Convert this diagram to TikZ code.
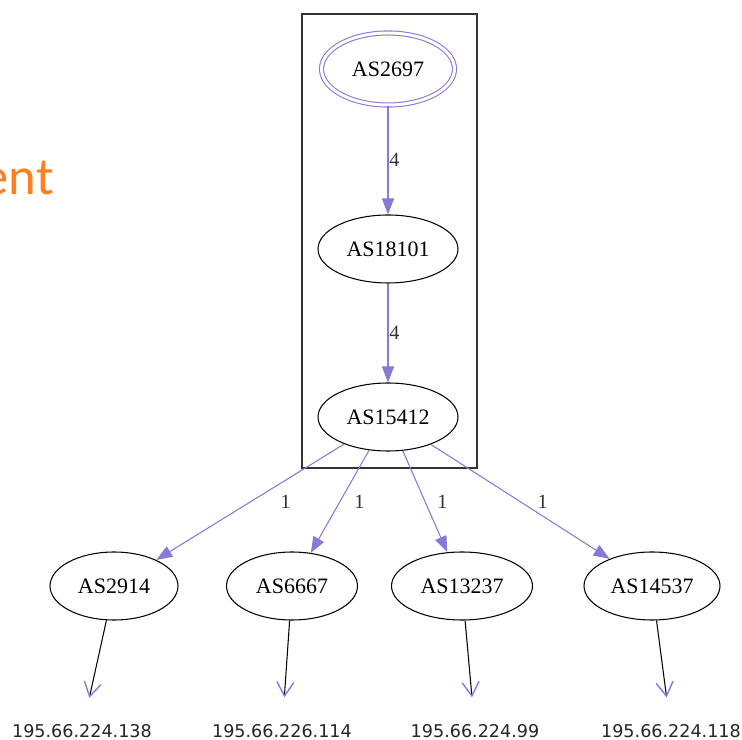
\documentclass[tikz,border=0pt]{standalone}
\usepackage{fontspec}
\setmainfont{Liberation Serif}
\newfontfamily\ipfont{DejaVu Sans}
\newfontfamily\headfont{Carlito}
\usepackage{xcolor}
\usepackage{tikz}
\usetikzlibrary{shapes.geometric,arrows.meta}
\definecolor{ASPurple}{HTML}{8878D8}
\definecolor{ASOrange}{HTML}{FF8020}
\definecolor{ASFrame}{HTML}{333333}

\begin{document}
\begin{tikzpicture}[x=1cm,y=1cm,
  asnode/.style={ellipse,draw=black,line width=0.6pt,inner sep=0pt,minimum height=1.36cm,font=\fontsize{12.5}{14}\selectfont},
  ipnode/.style={inner sep=1pt,font=\ipfont\fontsize{10}{12}\selectfont,text=black!85},
  link/.style={draw=ASPurple,line width=0.6pt,-{Triangle[length=0.32cm,width=0.24cm]}},
  hop/.style={draw=black,line width=0.6pt,shorten >=0.5cm,-{Straight Barb[color=ASPurple,line width=0.8pt,length=0.28cm,width=0.34cm]}},
  weight/.style={inner sep=0.5pt,anchor=west,font=\fontsize{11.5}{13}\selectfont,text=black!80}]
\path[use as bounding box] (0,0) rectangle (14.84,14.78);
\node[anchor=base east,inner sep=0pt,text=ASOrange,font=\headfont\fontsize{30}{34}\selectfont] (head) at (1.08,10.88) {ent};
\draw[ASFrame,line width=0.8pt] (6.04,14.50) rectangle (9.54,5.42);
% path inside the frame
\node[asnode,draw=ASPurple,double,double distance=0.06cm,minimum width=2.66cm,minimum height=1.44cm] (as2697) at (7.76,13.40) {AS2697};
\node[asnode,minimum width=2.80cm] (as18101) at (7.76,9.80) {AS18101};
\node[asnode,minimum width=2.80cm] (as15412) at (7.76,6.44) {AS15412};
\draw[link] (as2697) -- (as18101) node[weight,pos=0.5] {4};
\draw[link] (as18101) -- (as15412) node[weight,pos=0.5] {4};
% neighbours
\node[asnode,minimum width=2.56cm] (as2914) at (2.28,3.06) {AS2914};
\node[asnode,minimum width=2.62cm] (as6667) at (5.84,3.06) {AS6667};
\node[asnode,minimum width=2.82cm] (as13237) at (9.24,3.06) {AS13237};
\node[asnode,minimum width=2.72cm] (as14537) at (13.04,3.06) {AS14537};
\draw[link] (as15412) -- (as2914) node[weight,pos=0.5,xshift=0.58cm] {1};
\draw[link] (as15412) -- (as6667) node[weight,pos=0.5,xshift=0.26cm] {1};
\draw[link] (as15412) -- (as13237) node[weight,pos=0.5,xshift=0.22cm] {1};
\draw[link] (as15412) -- (as14537) node[weight,pos=0.5,xshift=0.32cm] {1};
% addresses
\node[ipnode] (ip1) at (1.64,0.16) {195.66.224.138};
\node[ipnode] (ip2) at (5.64,0.16) {195.66.226.114};
\node[ipnode] (ip3) at (9.50,0.16) {195.66.224.99};
\node[ipnode] (ip4) at (13.42,0.16) {195.66.224.118};
\draw[hop] (as2914) -- (ip1);
\draw[hop] (as6667) -- (ip2);
\draw[hop] (as13237) -- (ip3);
\draw[hop] (as14537) -- (ip4);
\end{tikzpicture}
\end{document}
